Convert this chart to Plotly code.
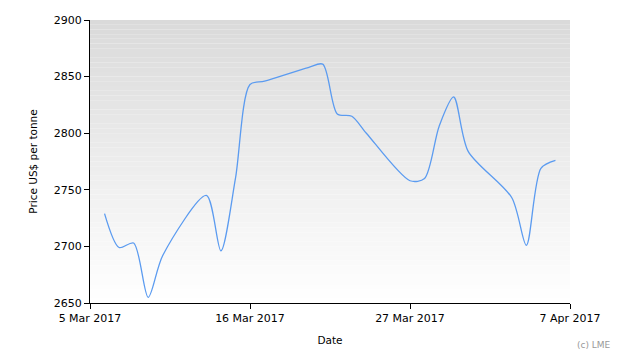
import plotly.graph_objects as go

dates = ["2017-03-06", "2017-03-07", "2017-03-08", "2017-03-09", "2017-03-10",
         "2017-03-13", "2017-03-14", "2017-03-15", "2017-03-16", "2017-03-17",
         "2017-03-20", "2017-03-21", "2017-03-22", "2017-03-23", "2017-03-24",
         "2017-03-27", "2017-03-28", "2017-03-29", "2017-03-30", "2017-03-31",
         "2017-04-03", "2017-04-04", "2017-04-05", "2017-04-06"]
prices = [2729, 2699, 2703, 2655, 2692,
          2745, 2696, 2760, 2843, 2846,
          2858, 2861, 2817, 2815, 2800,
          2758, 2760, 2806, 2832, 2784,
          2743, 2701, 2769, 2776]

tick_dates = ["2017-03-05", "2017-03-16", "2017-03-27", "2017-04-07"]
tick_labels = ["5 Mar 2017", "16 Mar 2017", "27 Mar 2017", "7 Apr 2017"]
y_ticks = [2650, 2700, 2750, 2800, 2850, 2900]

fig = go.Figure()
fig.add_trace(go.Scatter(x=dates, y=prices, mode="lines",
                         line=dict(color="#5b9bf0", width=1.3, shape="spline", smoothing=0.8),
                         hoverinfo="skip", showlegend=False))

# vertical gradient background for the plot area
n = 60
shapes = []
for i in range(n):
    t = i / (n - 1)
    c = int(round(255 - (255 - 218) * t))
    shapes.append(dict(type="rect", xref="paper", yref="paper",
                       x0=0, x1=1, y0=i / n, y1=(i + 1) / n,
                       fillcolor=f"rgb({c},{c},{c})", line=dict(width=0), layer="below"))

font = "DejaVu Sans"
fig.update_layout(
    width=630, height=360,
    margin=dict(l=90, r=60, t=20, b=57),
    paper_bgcolor="white", plot_bgcolor="white",
    shapes=shapes,
    font=dict(family=font, size=11, color="black"),
    xaxis=dict(range=["2017-03-05", "2017-04-07"], tickvals=tick_dates, ticktext=tick_labels,
               showgrid=False, zeroline=False, showline=True, linecolor="black", linewidth=1,
               ticks="outside", ticklen=5, tickcolor="black",
               title=dict(text="Date", font=dict(size=10.5), standoff=12)),
    yaxis=dict(range=[2650, 2900], tickvals=y_ticks,
               showgrid=False, zeroline=False, showline=True, linecolor="black", linewidth=1,
               ticks="outside", ticklen=5, tickcolor="black",
               title=dict(text="Price US$ per tonne", font=dict(size=10.5), standoff=14)),
    annotations=[dict(text="(c) LME", xref="paper", yref="paper", x=1.09, y=-0.148,
                      xanchor="right", yanchor="middle", showarrow=False,
                      font=dict(size=9, color="#999999"))],
)

fig.write_html("out.html")
